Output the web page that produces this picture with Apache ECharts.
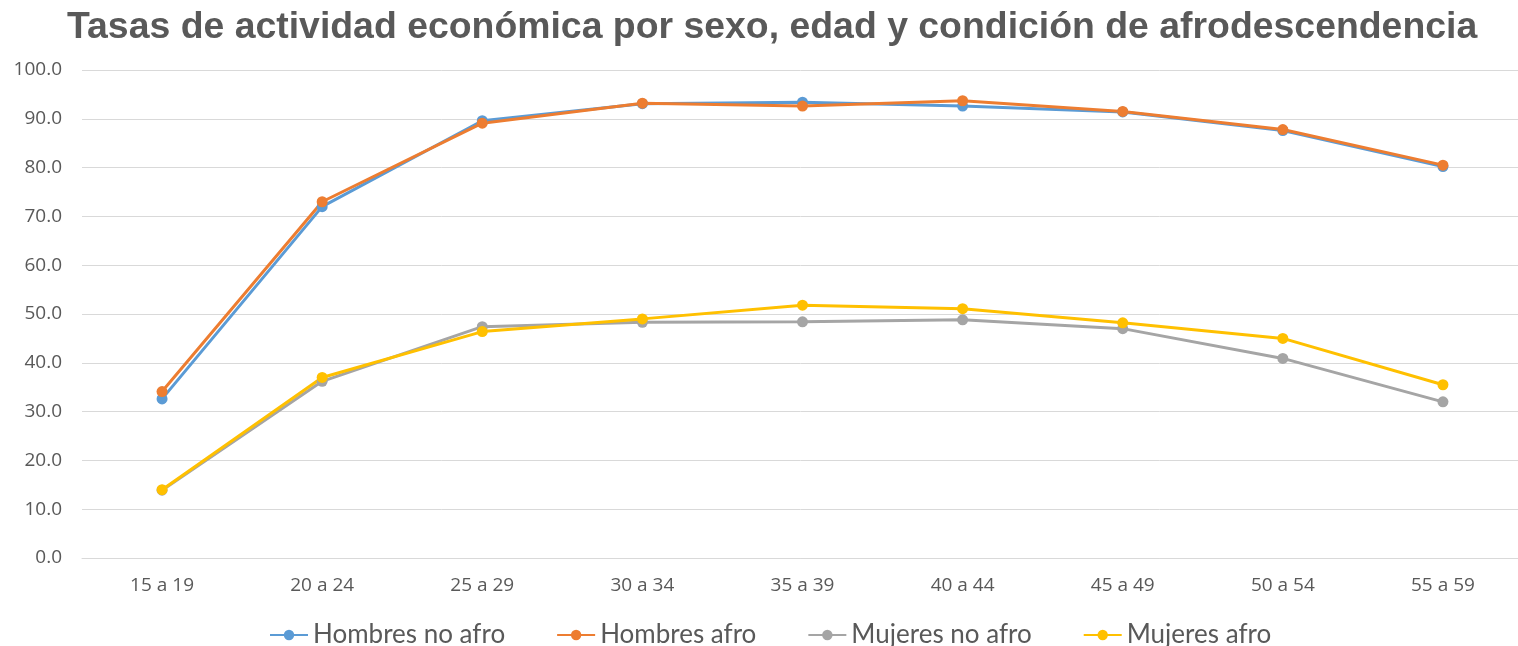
<!DOCTYPE html>
<html>
<head>
<meta charset="utf-8">
<script src="https://cdn.jsdelivr.net/npm/echarts@6/dist/echarts.min.js"></script>
<style>
html,body{margin:0;padding:0;background:#fff;}
#chart{width:1518px;height:646px;}
</style>
</head>
<body>
<div id="chart"></div>
<script>
const categories = ['15 a 19','20 a 24','25 a 29','30 a 34','35 a 39','40 a 44','45 a 49','50 a 54','55 a 59'];
const hombresNoAfro = [32.6, 72.0, 89.6, 93.1, 93.4, 92.6, 91.4, 87.6, 80.2];
const hombresAfro   = [34.1, 73.0, 89.1, 93.2, 92.6, 93.7, 91.5, 87.8, 80.5];
const mujeresNoAfro = [13.9, 36.2, 47.4, 48.3, 48.4, 48.8, 47.0, 40.9, 32.0];
const mujeresAfro   = [14.0, 37.0, 46.4, 49.0, 51.8, 51.1, 48.2, 45.0, 35.5];
const seriesNames = ['Hombres no afro','Hombres afro','Mujeres no afro','Mujeres afro'];
const colors = ['#5B9BD5','#ED7D31','#A5A5A5','#FFC000'];
const dataSets = [hombresNoAfro, hombresAfro, mujeresNoAfro, mujeresAfro];

const chart = echarts.init(document.getElementById('chart'));
chart.setOption({
  animation: false,
  color: colors,
  title: {
    text: 'Tasas de actividad económica por sexo, edad y condición de afrodescendencia',
    left: 62, top: 4,
    textStyle: {fontFamily: 'Liberation Sans, Arial, sans-serif', fontWeight: 'bold', fontSize: 37.4, color: '#595959'}
  },
  legend: {
    top: 617, left: 264,
    itemWidth: 38, itemHeight: 13, itemGap: 51,
    textStyle: {fontFamily: 'Lato, sans-serif', fontSize: 26, color: '#595959'},
    data: seriesNames
  },
  grid: {left: 82, width: 1441, top: 70, bottom: 88, outerBoundsMode: 'none', containLabel: false},
  xAxis: {
    type: 'category', data: categories, boundaryGap: true,
    axisLine: {lineStyle: {color: '#D9D9D9'}},
    axisTick: {show: false},
    axisLabel: {fontFamily: 'Open Sans, sans-serif', fontSize: 19, color: '#595959', margin: 18}
  },
  yAxis: {
    type: 'value', min: 0, max: 100, interval: 10,
    axisLine: {show: false}, axisTick: {show: false},
    splitLine: {lineStyle: {color: '#D9D9D9', width: 1}},
    axisLabel: {fontFamily: 'Open Sans, sans-serif', fontSize: 19, color: '#595959', margin: 20,
      formatter: v => v.toFixed(1)}
  },
  series: dataSets.map((d, i) => ({
    name: seriesNames[i], type: 'line', data: d,
    symbol: 'circle', symbolSize: 11,
    lineStyle: {width: 3, color: colors[i]},
    itemStyle: {color: colors[i]}
  }))
});
</script>
</body>
</html>
